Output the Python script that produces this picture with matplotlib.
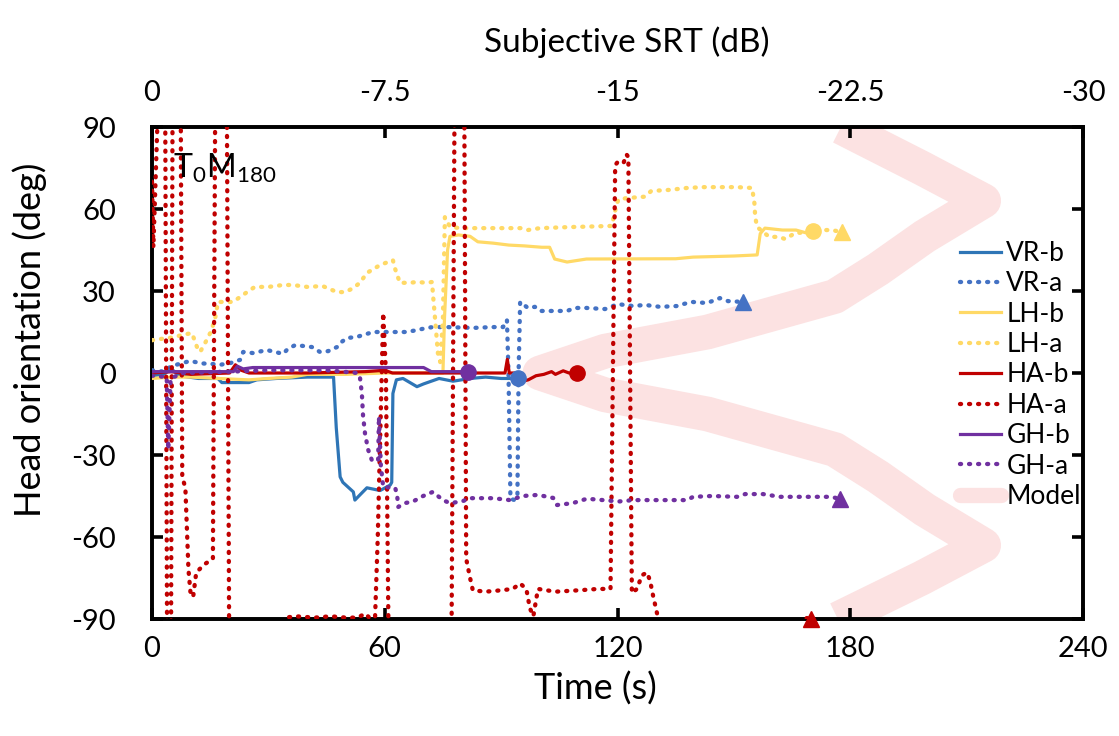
import matplotlib
matplotlib.use("Agg")
import matplotlib.pyplot as plt
from matplotlib.lines import Line2D

plt.rcParams['font.family'] = ['Lato', 'DejaVu Sans']
plt.rcParams['axes.unicode_minus'] = False
plt.rcParams['mathtext.default'] = 'regular'

# ---- data: (time s, head orientation deg) ----
vr_b = [(0, -1), (3, -0.5), (5, 1.5), (7, -1), (12, -2), (17, -2), (18, -3.5), (25, -3.5),
        (27, -2.5), (32, -2), (40, -1.5), (46.8, -1.5), (47.5, -20), (48.5, -38), (49.2, -40),
        (51.9, -43.5), (52.3, -46.5), (53.6, -44.6), (55.4, -42), (58.8, -43), (61.4, -41),
        (61.8, -40), (62.1, -7.5), (63, -2.5), (64.7, -2), (68.3, -5), (70, -4), (74, -2),
        (77.6, -3), (82, -2), (86, -1.5), (90, -2), (94.4, -2)]
vr_a = [(0, 1), (3, 0.5), (5, 2.5), (8, 3.7), (9.8, 4.4), (13, 3.5), (15.5, 3.3), (17.5, 3),
        (20.1, 3.6), (22.7, 4.8), (23.5, 7.7), (26, 7.3), (29.6, 8.4), (31.7, 7.7), (33.8, 7),
        (35, 8.8), (36.9, 10.2), (38.9, 9.9), (41.2, 9.5), (43.3, 7.7), (45.4, 8), (47.7, 9.5),
        (48.5, 11), (50.3, 12.8), (52.8, 13.2), (57, 15), (60.6, 15), (65.7, 15), (68.3, 15.7),
        (70.9, 16.5), (72.4, 16.8), (76, 16.8), (82.8, 16.5), (87.9, 16.8), (90.5, 16.8),
        (91.5, 19.4), (91.9, 0), (92.4, -46), (93.5, -46.5), (94.2, -45), (94.5, 0), (94.9, 26),
        (96.9, 23.8), (98.7, 24.2), (100, 22.7), (107, 22.7), (109, 23.8), (112, 23.8),
        (116.8, 23.4), (120.1, 25.2), (124, 24.5), (127.1, 24.9), (131, 24.2), (135.3, 24.5),
        (136.9, 25.2), (139.2, 26), (143.1, 25.6), (146.4, 27.4), (148.5, 26.3), (152.4, 26)]
lh_b = [(0, -2), (5, -1.5), (10, -1.5), (17, -2), (25, -2.5), (30, -2), (36, -1.5), (40, -0.5),
        (50, -0.5), (60, 0), (70, 0), (75.0, 0), (75.4, 20), (76.2, 45), (76.8, 50), (79, 50.5),
        (82, 50), (84, 48), (88, 47.5), (92, 46.8), (96, 46.5), (100.5, 46), (102.5, 46),
        (103.8, 41.7), (107, 40.6), (112, 41.7), (135, 41.8), (139.5, 42.4), (150, 42.8),
        (156, 43.2), (156.8, 51), (158, 53), (162.5, 52.3), (166, 52.3), (168.8, 51.2),
        (170.4, 51.8)]
lh_a = [(0, 12), (2.5, 12.5), (5.4, 13), (8, 14), (10.3, 14.6), (11.6, 9.5), (12.4, 7.7),
        (13.7, 11), (15, 14.6), (16.2, 19.4), (17, 26), (20.9, 26), (22.7, 27.8), (24.5, 29.6),
        (26.5, 31.5), (30, 31.5), (33.8, 32.2), (36.3, 32.2), (40, 31.5), (44, 31.8),
        (47.7, 29.6), (49.8, 29.6), (51.8, 31), (53.6, 33), (55.4, 36.6), (58.8, 39.5),
        (62.1, 41.3), (62.6, 38.4), (63.9, 33), (66.5, 33), (68.3, 33.3), (70.9, 33),
        (72.2, 33.3), (72.4, 29.3), (73, 19.4), (73.7, 7.3), (74.3, 4), (75.0, 20), (75.5, 57),
        (76.8, 53.5), (79.4, 53), (87, 53), (95, 53), (96.9, 52.3), (100, 53), (108, 53.4),
        (118.5, 53.8), (119.5, 60), (120.2, 63.5), (122.5, 64), (127, 64.5), (128.7, 66.6),
        (133.5, 67), (137.9, 67.7), (142.1, 68), (150.8, 68), (154.7, 67.7), (155.3, 62),
        (155.5, 57), (156.0, 53.4), (159.1, 49.8), (161.7, 49.8), (163.2, 49), (165.8, 51.2),
        (170.4, 51.6), (173, 52.3), (175.3, 52.3), (177.9, 51.5)]
ha_b = [(0, 0), (5, 0.5), (10, -0.5), (20, 0), (21.5, 3), (23, 1), (25, 0), (40, 0), (55, 0.5),
        (60, 1), (62, 0), (80, 0), (91, 0), (91.6, 5), (92.1, 0), (94.4, 0), (95.5, -3),
        (97, -2.5), (99, -1), (101, -0.5), (103, 0.5), (104, -0.5), (106, 0.8), (107.5, 0),
        (109.6, 0)]
ha_a = [(0, 70), (0.35, 46), (1.6, 100), (3.4, 100), (3.9, -100), (4.9, -100), (5.3, 100),
        (7.4, 100), (7.8, -38), (8.6, -42), (9.4, -72), (9.9, -80), (10.6, -82), (11.4, -73),
        (13.5, -70), (15.7, -68), (16.3, 100), (19.3, 100), (19.9, -100), (33.8, -100),
        (34.4, -89.5), (37, -89), (42, -89.5), (46, -89), (50, -89.5), (53, -89.5), (55, -88),
        (56, -89.5), (57.5, -89.5), (58.2, -60), (59.6, 22), (60.3, 0), (61.0, -100),
        (77.2, -100), (78.0, 100), (80.5, 100), (81.0, -68), (82.0, -75), (82.7, -79.5),
        (86, -80), (90, -79.5), (93, -79), (94.9, -77), (96.5, -79), (97.4, -86), (98.3, -89),
        (99.5, -79), (104, -80), (110, -79.5), (115, -79), (118.2, -79), (119.4, 76),
        (120.2, 77.5), (121.6, 77), (122.3, 80), (122.8, 79), (123.7, -80.5), (125, -79),
        (126.3, -74), (127.6, -73), (128.4, -76), (129.1, -81), (130.2, -88), (130.7, -100),
        (167.5, -100), (168.2, -89.5), (170, -90)]
gh_b = [(0, 0.5), (10, 0.5), (21, 0.5), (22, 2.5), (23.5, 1.5), (26, 2), (40, 2), (55, 2),
        (70, 2), (72, 0.5), (75, 0.5), (81.5, 0.5)]
gh_a = [(0, -1), (3.8, -1.5), (4.2, -28), (4.8, -2), (8, 0), (20, 0.5), (30, 1), (45, 1),
        (53, 0), (53.6, -1.5), (54.1, -7.5), (54.4, -15.5), (54.9, -22), (55.7, -28),
        (56.7, -32), (58.3, -32), (58.5, -16), (59.0, -34), (59.6, -41.7), (62.7, -42),
        (63.2, -45), (63.5, -49), (65.2, -47.6), (67.3, -47), (69.9, -45), (72.4, -43.5),
        (75, -46.5), (76.8, -47.6), (79.9, -47), (82, -45.8), (87.9, -45.8), (92.3, -46.5),
        (95.6, -45), (99.5, -44.6), (103.4, -45.7), (104.4, -48.3), (108.5, -47.6),
        (112.1, -46), (116.3, -46.5), (120.4, -47), (124, -46.5), (131, -46.5), (137.9, -46.5),
        (139.5, -45.3), (144.4, -45), (150.8, -45.3), (152.9, -44.3), (157.5, -44.3),
        (161.9, -45.3), (168.9, -45.3), (174.8, -45.3), (177.4, -46)]

# model: subjective SRT (dB) vs head orientation (deg)
model_deg = [-90, -75, -63, -50, -38, -28, -15, -8, 0, 8, 15, 28, 38, 50, 63, 75, 90]
model_srt = [-22.1, -24.8, -26.8, -24.9, -23.4, -22.0, -17.9, -14.6, -12.5, -14.6, -17.9,
             -22.0, -23.4, -24.9, -26.8, -24.8, -22.2]

series = [
    ('VR-b', vr_b, '#2E75B6', 'solid', 'o', '#4472C4'),
    ('VR-a', vr_a, '#4472C4', 'dot', '^', '#4472C4'),
    ('LH-b', lh_b, '#FFD966', 'solid', 'o', '#FFD966'),
    ('LH-a', lh_a, '#FFD966', 'dot', '^', '#FFD966'),
    ('HA-b', ha_b, '#C00000', 'solid', 'o', '#C00000'),
    ('HA-a', ha_a, '#C00000', 'dot', '^', '#C00000'),
    ('GH-b', gh_b, '#7030A0', 'solid', 'o', '#7030A0'),
    ('GH-a', gh_a, '#7030A0', 'dot', '^', '#7030A0'),
]
model_color = '#FCE2E2'

fig = plt.figure(figsize=(11.19, 7.36), dpi=100)
ax = fig.add_axes([152 / 1119, 1 - 619 / 736, (1083 - 152) / 1119, (619 - 127) / 736])
ax2 = ax.twiny()

ax2.plot(model_srt, model_deg, color=model_color, lw=25, solid_joinstyle='round',
         solid_capstyle='butt', zorder=1)

handles = []
for name, pts, color, style, mk, mkc in series:
    t, d = zip(*pts)
    if style == 'dot':
        line, = ax.plot(t, d, color=color, lw=3.1, linestyle=(0, (0.25, 1.85)),
                        dash_capstyle='round', label=name, zorder=3)
    else:
        line, = ax.plot(t, d, color=color, lw=2.3, label=name, zorder=3,
                        solid_joinstyle='round')
    ax.plot(t[-1], d[-1], marker=mk, color=mkc, markersize=12 if mk == '^' else 11,
            linestyle='none', zorder=4, clip_on=False)
    handles.append(line)
handles.append(Line2D([], [], color=model_color, lw=11, solid_capstyle='round', label='Model'))

ax.set_zorder(ax2.get_zorder() + 1)
ax.patch.set_visible(False)

ax.set_xlim(0, 240)
ax.set_ylim(-90, 90)
ax.set_xticks([0, 60, 120, 180, 240])
ax.set_yticks([-90, -60, -30, 0, 30, 60, 90])
ax2.set_xlim(0, -30)
ax2.set_xticks([0, -7.5, -15, -22.5, -30])
ax2.set_xticklabels(['0', '-7.5', '-15', '-22.5', '-30'])

for a in (ax, ax2):
    for s in a.spines.values():
        s.set_linewidth(2.6)
        s.set_color('black')
ax.tick_params(axis='both', direction='in', length=8, width=2.6, labelsize=21,
               right=True)
ax.tick_params(axis='y', pad=26)
ax.tick_params(axis='x', pad=12)
ax2.tick_params(axis='x', direction='in', length=8, width=2.6, labelsize=21, pad=15)

ax.set_xlabel('Time (s)', fontsize=26)
ax.xaxis.set_label_coords((595 - 152) / 931, (619 - 672) / 492)
ax2.set_xlabel('Subjective SRT (dB)', fontsize=24)
ax2.xaxis.set_label_coords((627 - 152) / 931, (619 - 52) / 492)
ax.set_ylabel('Head orientation (deg)', fontsize=26)
ax.yaxis.set_label_coords((30 - 152) / 931, (619 - 340) / 492)
ax.yaxis.label.set_va('center')

ax.text(0.0226, 0.896, r'$T_0M_{180}$', transform=ax.transAxes, fontsize=23,
        va='baseline', ha='left')

ax.legend(handles=handles, loc='center left', bbox_to_anchor=(0.868, 0.496),
          frameon=False, fontsize=19, handlelength=1.55, handletextpad=0.2,
          labelspacing=0.205, borderpad=0, borderaxespad=0)

fig.savefig('out.png', dpi=100)
